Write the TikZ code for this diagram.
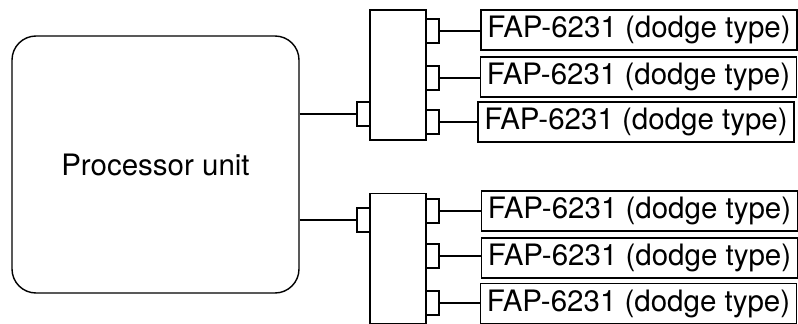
\documentclass[tikz,border=0pt]{standalone}
\usepackage{fontspec}
\setmainfont{TeX Gyre Heros}
\begin{document}
\begin{tikzpicture}[x=1pt,y=-1pt,line width=1.4pt,
  font=\fontsize{29.5}{34}\selectfont,
  unit/.style={draw,rectangle,rounded corners=24pt,minimum width=287pt,minimum height=257pt,inner sep=0pt},
  hub/.style={draw,rectangle,minimum width=56pt,minimum height=130pt,inner sep=0pt},
  port/.style={draw,rectangle,minimum width=13pt,minimum height=24pt,inner sep=0pt},
  fap/.style={draw,rectangle,minimum width=316pt,minimum height=40pt,inner sep=0pt}]
\useasboundingbox (0,0) rectangle (798,324);
\node[unit] (pu) at (155.5,164.5) {Processor unit};

\node[hub] (h1) at (398,75) {};
\node[port] (h1in) at (363.5,114) {};
\node[port] (h1o1) at (432.5,31) {};
\node[port] (h1o2) at (432.5,78) {};
\node[port] (h1o3) at (432.5,122) {};
\node[fap] (f1a) at (639,30) {FAP-6231 (dodge type)};
\node[fap] (f1b) at (638.5,77) {FAP-6231 (dodge type)};
\node[fap] (f1c) at (636,122) {FAP-6231 (dodge type)};
\path[draw] (pu.east |- h1in) -- (h1in.west);
\path[draw] (h1o1.east) -- (f1a.west |- h1o1);
\path[draw] (h1o2.east) -- (f1b.west |- h1o2);
\path[draw] (h1o3.east) -- (f1c.west |- h1o3);

\node[hub] (h2) at (398,258.5) {};
\node[port] (h2in) at (363.5,220) {};
\node[port] (h2o1) at (432.5,211) {};
\node[port] (h2o2) at (432.5,256) {};
\node[port] (h2o3) at (432.5,303) {};
\node[fap] (f2a) at (639.5,211) {FAP-6231 (dodge type)};
\node[fap] (f2b) at (639.5,258) {FAP-6231 (dodge type)};
\node[fap] (f2c) at (638.5,303.5) {FAP-6231 (dodge type)};
\path[draw] (pu.east |- h2in) -- (h2in.west);
\path[draw] (h2o1.east) -- (f2a.west |- h2o1);
\path[draw] (h2o2.east) -- (f2b.west |- h2o2);
\path[draw] (h2o3.east) -- (f2c.west |- h2o3);
\end{tikzpicture}
\end{document}
